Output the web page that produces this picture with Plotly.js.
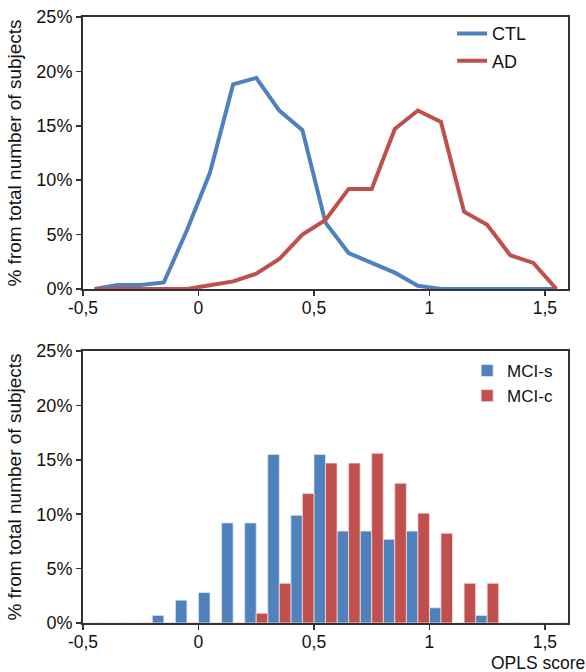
<!DOCTYPE html>
<html><head><meta charset="utf-8">
<script src="https://cdn.plot.ly/plotly-3.0.1.min.js"></script>
<style>body{margin:0;background:#fff}#chart{width:586px;height:672px}</style>
</head><body><div id="chart"></div>
<script>
// OPLS score bin centres
var binCenters = [-0.45,-0.35,-0.25,-0.15,-0.05,0.05,0.15,0.25,0.35,0.45,0.55,0.65,0.75,0.85,0.95,1.05,1.15,1.25,1.35,1.45,1.55];
// Top panel (lines), % of subjects
var ctlValues = [0,0.37,0.37,0.6,5.4,10.7,18.8,19.4,16.4,14.6,6.1,3.3,2.4,1.5,0.3,0,0,0,0,0,0];
var adValues  = [0,0,0,0,0,0.35,0.7,1.4,2.75,5.0,6.35,9.2,9.2,14.7,16.4,15.35,7.1,5.9,3.1,2.4,0];
// Bottom panel (bars), % of subjects
var mcisValues = [0,0,0,0.7,2.1,2.8,9.2,9.2,15.5,9.9,15.5,8.45,8.45,7.7,8.45,1.4,0,0.7,0,0,0];
var mciccValues = [0,0,0,0,0,0,0,0.9,3.65,11.9,14.7,14.7,15.6,12.85,10.1,8.25,3.65,3.65,0,0,0];
// Axis ticks
var xTickVals = [-0.5,0,0.5,1,1.5];
var xTickText = ['-0,5','0','0,5','1','1,5'];
var yTickVals = [0,5,10,15,20,25];
var yTickText = ['0%','5%','10%','15%','20%','25%'];

var blue = '#4F81BD', red = '#C0504D';
var fam = 'Liberation Sans, Arial, sans-serif';
var fnt = {family:fam, size:18, color:'#111'};
var xFnt = {family:fam, size:17.5, color:'#111'};
var titleFnt = {family:fam, size:19, color:'#111'};

var traces = [
  {x:binCenters, y:ctlValues, type:'scatter', mode:'lines', name:'CTL',
   line:{color:blue, width:4}, xaxis:'x', yaxis:'y', legend:'legend', legendgroup:'a'},
  {x:binCenters, y:adValues, type:'scatter', mode:'lines', name:'AD',
   line:{color:red, width:4}, xaxis:'x', yaxis:'y', legend:'legend', legendgroup:'b'},
  {x:binCenters, y:mcisValues, type:'bar', name:'MCI-s',
   marker:{color:blue, line:{color:'#dde8f5', width:0.8}}, xaxis:'x2', yaxis:'y2', legend:'legend2'},
  {x:binCenters, y:mciccValues, type:'bar', name:'MCI-c',
   marker:{color:red, line:{color:'#f3dada', width:0.8}}, xaxis:'x2', yaxis:'y2', legend:'legend2'}
];

function xax(anchor){
  return {range:[-0.5,1.6], anchor:anchor, tickvals:xTickVals, ticktext:xTickText,
    ticks:'outside', ticklen:5, tickwidth:1.5, tickcolor:'#333', showgrid:false, zeroline:false,
    showline:true, linecolor:'#333', linewidth:2, mirror:true, tickfont:xFnt, ticklabelstandoff:-3};
}
function yax(anchor, dom){
  return {range:[0,25], domain:dom, anchor:anchor, tickvals:yTickVals, ticktext:yTickText,
    ticks:'outside', ticklen:5, tickwidth:1.5, tickcolor:'#333', showgrid:false, zeroline:false,
    showline:true, linecolor:'#333', linewidth:2, mirror:true, tickfont:fnt,
    title:{text:'% from total number of subjects', font:titleFnt, standoff:10}};
}

var layout = {
  width:586, height:672,
  margin:{l:83, r:18, t:17, b:49},
  paper_bgcolor:'#fff', plot_bgcolor:'#fff',
  font:fnt,
  barmode:'group', bargap:0, bargroupgap:0,
  xaxis:xax('y'),
  yaxis:yax('x',[0.5512,1]),
  xaxis2:xax('y2'),
  yaxis2:yax('x2',[0,0.4488]),
  legend:{x:0.761, y:1.003, xanchor:'left', yanchor:'top', font:fnt, bgcolor:'rgba(0,0,0,0)', tracegroupgap:1, itemwidth:30},
  legend2:{x:0.792, y:0.4455, xanchor:'left', yanchor:'top', font:{family:fam, size:17, color:'#111'}, bgcolor:'rgba(0,0,0,0)', tracegroupgap:0},
  annotations:[{text:'OPLS score', xref:'paper', yref:'paper', x:1.037, y:-0.0475, xanchor:'right', yanchor:'top', showarrow:false, font:{family:fam, size:17.5, color:'#111'}, borderpad:0}],
  showlegend:true
};
Plotly.newPlot('chart', traces, layout, {displayModeBar:false, staticPlot:true});
</script></body></html>
